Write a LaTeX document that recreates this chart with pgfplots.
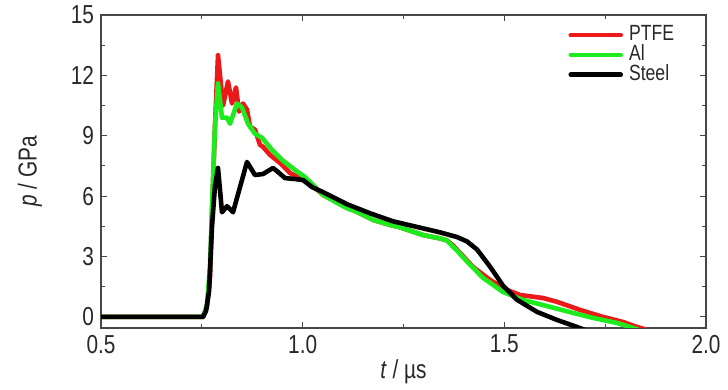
\documentclass[border=0pt]{standalone}
\usepackage{fontspec}
\setmainfont{Liberation Sans}[FakeStretch=0.8]
\usepackage{pgfplots}
\pgfplotsset{compat=1.18}
\definecolor{cred}{RGB}{235,25,25}
\definecolor{cgreen}{RGB}{30,235,30}
\definecolor{axgray}{RGB}{70,70,70}
\definecolor{txtgray}{RGB}{40,40,40}
\begin{document}
\begin{tikzpicture}
\begin{axis}[
  scale only axis, width=302.5pt, height=156.5pt,
  xmin=0.5, xmax=2.0, ymin=-0.55, ymax=15,
  xtick={0.5,1.0,1.5,2.0}, minor xtick={0.75,1.25,1.75},
  ytick={0,3,6,9,12,15}, minor ytick={1.5,4.5,7.5,10.5,13.5},
  x tick label style={/pgf/number format/.cd,fixed,fixed zerofill,precision=1},
  /pgf/number format/assume math mode=true,
  tick label style={font=\fontsize{13}{15}\selectfont, text=txtgray},
  tick align=inside, major tick length=3pt, minor tick length=2pt,
  axis line style={axgray, line width=0.6pt},
  every tick/.style={axgray, line width=0.5pt},
  xlabel={\textit{t} / µs}, ylabel={\textit{p} / GPa},
  every axis x label/.style={at={(axis description cs:0.5,-0.1406)}, anchor=center,
    font=\fontsize{13}{15}\selectfont, text=txtgray},
  every axis y label/.style={at={(axis description cs:-0.1174,0.5)}, rotate=90, anchor=center,
    font=\fontsize{13}{15}\selectfont, text=txtgray},
  legend style={at={(0.772,0.977)}, anchor=north west, draw=none, fill=none, inner sep=0pt,
    font=\fontsize{11}{11.5}\selectfont, row sep=-2.6pt,
    cells={anchor=west, text height=7pt, text depth=0pt, inner sep=1pt}, text=txtgray,
    /tikz/every odd column/.append style={column sep=1pt}},
  legend image code/.code={\draw[#1] (0pt,0pt) -- (25pt,0pt);},
  every axis plot/.append style={line width=2.3pt, line join=round, line cap=round},
]
\addplot[cred] coordinates {
(0.5,0) (0.7529,0) (0.7628,0.5) (0.7703,2.0) (0.7752,5.0) (0.7826,9.5) (0.7901,13.0)
(0.8025,10.5) (0.8149,11.7) (0.8248,10.6) (0.8347,11.4) (0.8422,10.2) (0.8520,10.6)
(0.8620,10.3) (0.8694,9.45) (0.8818,9.3) (0.8942,8.55) (0.9017,8.45) (0.9190,8.05)
(0.9438,7.65) (0.9686,7.15) (0.9934,6.9) (1.0058,6.85) (1.0505,6.06) (1.1100,5.42)
(1.1348,5.22) (1.1744,4.82) (1.2166,4.57) (1.2414,4.45) (1.2984,4.07) (1.3406,3.9)
(1.3579,3.8) (1.3728,3.55) (1.3901,3.18) (1.4224,2.48) (1.4645,1.84) (1.5067,1.34)
(1.5389,1.09) (1.5959,0.94) (1.6306,0.75) (1.6877,0.35) (1.7447,0.0) (1.7943,-0.25)
(1.8290,-0.5) (1.85,-0.62)
};
\addlegendentry{PTFE}
\addplot[cgreen] coordinates {
(0.5,0) (0.7529,0) (0.7628,0.6) (0.7703,2.5) (0.7752,5.5) (0.7826,9.5) (0.7901,11.6)
(0.8000,9.9) (0.8124,9.9) (0.8199,9.6) (0.8372,10.6) (0.8496,10.4) (0.8645,9.6)
(0.8818,9.1) (0.8992,8.9) (0.9240,8.3) (0.9488,7.8) (0.9810,7.3) (1.0058,6.95)
(1.0505,6.06) (1.1100,5.4) (1.1348,5.22) (1.1744,4.82) (1.2166,4.57) (1.2414,4.45)
(1.2984,4.07) (1.3406,3.9) (1.3579,3.8) (1.3728,3.48) (1.3827,3.3) (1.4075,2.75)
(1.4472,1.94) (1.4968,1.24) (1.5463,0.84) (1.6133,0.5) (1.6703,0.2) (1.7199,-0.05)
(1.7794,-0.3) (1.8116,-0.5) (1.83,-0.62)
};
\addlegendentry{Al}
\addplot[black] coordinates {
(0.5,0) (0.7529,0) (0.7604,0.3) (0.7680,1.3) (0.7752,4.5) (0.7826,6.5) (0.7901,7.4)
(0.8000,5.2) (0.8124,5.5) (0.8273,5.2) (0.8620,7.7) (0.8818,7.05) (0.9017,7.1)
(0.9265,7.4) (0.9389,7.2) (0.9562,6.9) (0.9810,6.85) (1.0009,6.8) (1.0232,6.45)
(1.0505,6.2) (1.1100,5.6) (1.1670,5.15) (1.2240,4.75) (1.2984,4.4) (1.3406,4.2)
(1.3827,3.97) (1.4075,3.75) (1.4323,3.35) (1.4645,2.5) (1.4968,1.55) (1.5315,0.85)
(1.5811,0.25) (1.6306,-0.15) (1.6802,-0.5) (1.70,-0.65)
};
\addlegendentry{Steel}
\path (rel axis cs:0,0) ++(-50.5pt,-31pt) coordinate (bl);
\path (rel axis cs:1,1) ++(11pt,7.5pt) coordinate (tr);
\end{axis}
\pgfresetboundingbox
\path[use as bounding box] (bl) rectangle (tr);
\end{tikzpicture}
\end{document}
